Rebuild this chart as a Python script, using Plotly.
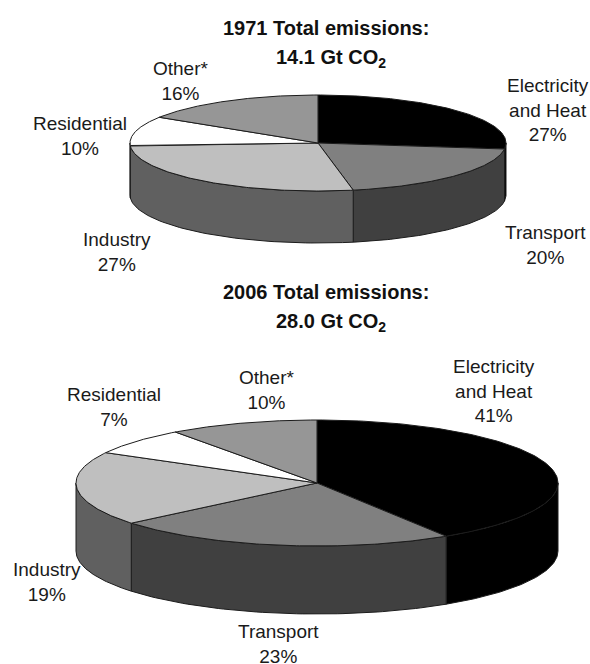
import math
import plotly.graph_objects as go

categories = ["Electricity<br>and Heat", "Transport", "Industry", "Residential", "Other*"]
values_1971 = [27, 20, 27, 10, 16]
values_2006 = [41, 23, 19, 7, 10]
title_lines = ["1971 Total emissions:", "14.1 Gt CO<sub>2</sub>", "2006 Total emissions:", "28.0 Gt CO<sub>2</sub>"]

top_colors = ["#000000", "#808080", "#bfbfbf", "#ffffff", "#969696"]
side_colors = ["#000000", "#404040", "#606060", "#ffffff", "#969696"]
EDGE = "#1c1c1c"
FONT = "Liberation Sans"


def pie(fig, values, cx, cy, rx, ry, depth):
    def pt(a, dz=0):
        return cx + rx * math.sin(a), cy - ry * math.cos(a) + dz

    total = sum(values)
    edges = [0]
    for v in values:
        edges.append(edges[-1] + v / total * 2 * math.pi)

    # side walls (only the front half of the rim is visible)
    for i, v in enumerate(values):
        a0, a1 = max(edges[i], math.pi / 2), min(edges[i + 1], 3 * math.pi / 2)
        if a1 <= a0:
            continue
        n = 60
        arc = [a0 + (a1 - a0) * k / n for k in range(n + 1)]
        upper = [pt(a) for a in arc]
        lower = [pt(a, depth) for a in reversed(arc)]
        poly = upper + lower + [upper[0]]
        fig.add_trace(go.Scatter(x=[p[0] for p in poly], y=[p[1] for p in poly], mode="lines",
                                 fill="toself", fillcolor=side_colors[i],
                                 line=dict(color=EDGE, width=1), hoverinfo="skip", showlegend=False))
    # top face
    for i, v in enumerate(values):
        a0, a1 = edges[i], edges[i + 1]
        n = 120
        arc = [a0 + (a1 - a0) * k / n for k in range(n + 1)]
        poly = [(cx, cy)] + [pt(a) for a in arc] + [(cx, cy)]
        fig.add_trace(go.Scatter(x=[p[0] for p in poly], y=[p[1] for p in poly], mode="lines",
                                 fill="toself", fillcolor=top_colors[i],
                                 line=dict(color=EDGE, width=1), name=categories[i].replace("<br>", " "),
                                 text=f"{v}%", hoverinfo="name+text", showlegend=False))


fig = go.Figure()
pie(fig, values_1971, 318, 143, 188, 48, 52)
pie(fig, values_2006, 317, 483, 241, 63, 68)

label_pos_1971 = [(548, 110), (545, 245), (117, 252), (80, 136), (181, 81)]
label_pos_2006 = [(494, 391), (278, 644), (47, 582), (114, 407), (267, 390)]
annotations = []
for vals, poss in ((values_1971, label_pos_1971), (values_2006, label_pos_2006)):
    for c, v, (x, y) in zip(categories, vals, poss):
        annotations.append(dict(x=x, y=y, xref="x", yref="y", text=f"{c}<br>{v}%", showarrow=False,
                                align="center", xanchor="center", yanchor="middle",
                                font=dict(family=FONT, size=19, color="#1a1a1a")))
for t, (x, y) in zip(title_lines, [(326, 28), (331, 58), (326, 292), (331, 322)]):
    annotations.append(dict(x=x, y=y, xref="x", yref="y", text=f"<b>{t}</b>", showarrow=False,
                            align="center", xanchor="center", yanchor="middle",
                            font=dict(family=FONT, size=20, color="#111111")))

fig.update_layout(
    width=590, height=664, margin=dict(l=0, r=0, t=0, b=0),
    paper_bgcolor="white", plot_bgcolor="white", annotations=annotations,
    xaxis=dict(range=[0, 590], visible=False, fixedrange=True),
    yaxis=dict(range=[664, 0], visible=False, fixedrange=True),
)
fig.write_html("out.html", config={"displayModeBar": False},
               post_script="document.body.style.margin='0';document.body.style.overflow='hidden';")
